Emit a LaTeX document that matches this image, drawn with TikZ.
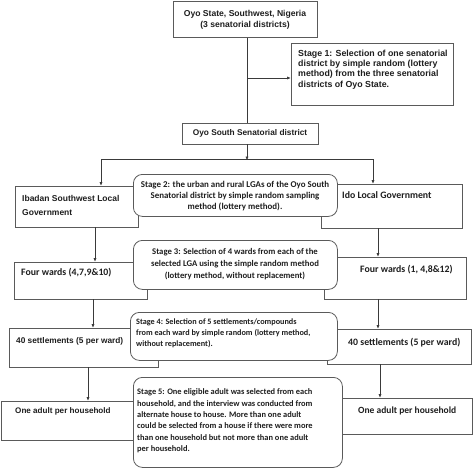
\documentclass[tikz,border=0pt]{standalone}
\usepackage{fontspec}
\setmainfont{Liberation Sans}
\newfontfamily\calfont{Carlito}
\usetikzlibrary{arrows.meta,calc}
\definecolor{ln}{HTML}{3A3A3A}
\definecolor{bx}{HTML}{5A5A5A}
\definecolor{tx}{HTML}{1E1E1E}
\begin{document}
\begin{tikzpicture}[x=1pt,y=-1pt,
  box/.style={draw=bx,line width=0.8pt,fill=white,inner sep=0pt,anchor=north west},
  stagebox/.style={box,rounded corners=9pt},
  atxt/.style={inner sep=0pt,text=tx,font=\bfseries},
  ctxt/.style={inner sep=0pt,text=tx,font=\calfont\bfseries},
  arr/.style={draw=ln,line width=0.8pt,-{Latex[length=4pt,width=3.2pt]}},
  ln/.style={draw=ln,line width=0.8pt}]
\useasboundingbox (0,0) rectangle (474,469);
% main flow boxes
\node[box,minimum width=144pt,minimum height=36pt] (top) at (173,1) {};
\node[atxt,align=center,font=\fontsize{8.6}{11}\selectfont\bfseries] (toptx) at (245,19.5) {Oyo State, Southwest, Nigeria\\(3 senatorial districts)};
\node[box,minimum width=162pt,minimum height=62pt] (s1) at (291,43) {};
\node[atxt,align=left,anchor=north west,font=\fontsize{8.8}{10.4}\selectfont\bfseries] (s1tx) at (298,49.5) {Stage 1: Selection of one senatorial\\district by simple random (lottery\\method) from the three senatorial\\districts of Oyo State.};
\node[box,minimum width=136pt,minimum height=21pt] (oyos) at (182,123) {};
\node[atxt,font=\fontsize{8.3}{10}\selectfont\bfseries] (oyostx) at (250,133.5) {Oyo South Senatorial district};
\node[box,minimum width=123pt,minimum height=41pt] (ibadan) at (15,186) {};
\node[atxt,align=left,anchor=west,font=\fontsize{8.5}{14}\selectfont\bfseries] (ibadantx) at (22,205) {Ibadan Southwest Local\\Government};
\node[box,minimum width=141pt,minimum height=44pt] (ido) at (321,184) {};
\node[ctxt,anchor=west,font=\calfont\fontsize{9.8}{11}\selectfont\bfseries] (idotx) at (342,195) {Ido Local Government};
\node[box,minimum width=133pt,minimum height=37pt] (fwl) at (14,262) {};
\node[ctxt,anchor=west,font=\calfont\fontsize{9.8}{11}\selectfont\bfseries] (fwltx) at (21,273) {Four wards (4,7,9\&10)};
\node[box,minimum width=142pt,minimum height=42pt] (fwr) at (324,257) {};
\node[ctxt,anchor=west,font=\calfont\fontsize{9.8}{11}\selectfont\bfseries] (fwrtx) at (360,270) {Four wards (1, 4,8\&12)};
\node[box,minimum width=149pt,minimum height=39pt] (setl) at (9,328) {};
\node[atxt,anchor=west,font=\fontsize{8.3}{11}\selectfont\bfseries] (setltx) at (16,341) {40 settlements (5 per ward)};
\node[box,minimum width=144pt,minimum height=35pt] (setr) at (327,329) {};
\node[ctxt,anchor=west,font=\calfont\fontsize{9.8}{11}\selectfont\bfseries] (setrtx) at (348,343) {40 settlements (5 per ward)};
\node[box,minimum width=150pt,minimum height=39pt] (onel) at (0.5,401) {};
\node[atxt,anchor=west,font=\fontsize{8.1}{11}\selectfont\bfseries] (oneltx) at (15,411) {One adult per household};
\node[box,minimum width=137pt,minimum height=36pt] (oner) at (335,398) {};
\node[ctxt,anchor=west,font=\calfont\fontsize{9.5}{11}\selectfont\bfseries] (onertx) at (358,411) {One adult per household};
% stage boxes (drawn over)
\node[stagebox,minimum width=204pt,minimum height=42pt] (s2) at (133,174) {};
\node[ctxt,align=center,font=\calfont\fontsize{8.9}{11}\selectfont\bfseries] (s2tx) at (235,196) {Stage 2: the urban and rural LGAs of the Oyo South\\Senatorial district by simple random sampling\\method (lottery method).};
\node[stagebox,minimum width=204pt,minimum height=49pt] (s3) at (133,240) {};
\node[ctxt,align=center,font=\calfont\fontsize{8.7}{12}\selectfont\bfseries] (s3tx) at (235,264) {Stage 3: Selection of 4 wards from each of the\\selected LGA using the simple random method\\(lottery method, without replacement)};
\node[stagebox,minimum width=207pt,minimum height=48pt] (s4) at (130,312) {};
\node[ctxt,align=left,anchor=north west,font=\calfont\fontsize{8.2}{11}\selectfont\bfseries] (s4tx) at (136,318.5) {Stage 4: Selection of 5 settlements/compounds\\from each ward by simple random (lottery method,\\without replacement).};
\node[stagebox,minimum width=209pt,minimum height=90pt] (s5) at (133,377) {};
\node[ctxt,align=left,anchor=north west,font=\calfont\fontsize{8.4}{11.4}\selectfont\bfseries] (s5tx) at (137,388.5) {Stage 5: One eligible adult was selected from each\\household, and the interview was conducted from\\alternate house to house. More than one adult\\could be selected from a house if there were more\\than one household but not more than one adult\\per household.};
% connectors
\coordinate (j1) at (247,78);
\coordinate (bl) at (101,159);
\coordinate (br) at (373,159);
\coordinate (c0) at (247,144);
\coordinate (c1) at (95,227);
\coordinate (c2) at (378,228);
\coordinate (c3) at (93,299);
\coordinate (c4) at (378,299);
\coordinate (c5) at (88,367);
\coordinate (c6) at (380,364);
\draw[ln] (top.south -| j1) -- (oyos.north -| j1);
\draw[arr] (j1) -- (s1.west |- j1);
\draw[arr] (c0) -- ([yshift=-1.5pt]bl -| c0);
\draw[ln] (bl) -- (br);
\draw[arr] (bl) -- (ibadan.north -| bl);
\draw[arr] (br) -- (ido.north -| br);
\draw[arr] (c1) -- (fwl.north -| c1);
\draw[arr] (c2) -- (fwr.north -| c2);
\draw[arr] (c3) -- (setl.north -| c3);
\draw[arr] (c4) -- (setr.north -| c4);
\draw[arr] (c5) -- (onel.north -| c5);
\draw[arr] (c6) -- (oner.north -| c6);
\end{tikzpicture}
\end{document}
